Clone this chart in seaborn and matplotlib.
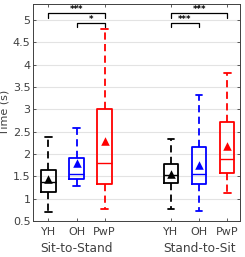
import numpy as np
import pandas as pd
import matplotlib
matplotlib.use("Agg")
import matplotlib.pyplot as plt
import seaborn as sns

# ---- data ----
groups = ["YH", "OH", "PwP"]
tasks = ["Sit-to-Stand", "Stand-to-Sit"]
colors = ["black", "blue", "red"]

whislo = [0.70, 1.28, 0.77, 0.78, 0.72, 1.12]
q1     = [1.15, 1.45, 1.32, 1.34, 1.32, 1.57]
med    = [1.37, 1.56, 1.80, 1.52, 1.56, 1.88]
q3     = [1.65, 1.91, 3.00, 1.78, 2.16, 2.71]
whishi = [2.38, 2.58, 4.80, 2.33, 3.32, 3.82]
means  = [1.43, 1.80, 2.30, 1.55, 1.76, 2.18]

# significance: (task index, group a, group b, level, label)
sig_pairs = [(0, 0, 2, 5.15, "***"), (0, 1, 2, 4.94, "*"),
             (1, 0, 2, 5.15, "***"), (1, 0, 1, 4.94, "***")]

sns.set_theme(style="white")
plt.rcParams['font.family'] = ['DejaVu Sans']

fig = plt.figure(figsize=(2.45, 2.57), dpi=100)
ax = fig.add_axes([0.136, 0.14, 0.844, 0.845])

offsets = [1.0, 5.36]
positions = [offsets[t] + g for t in range(2) for g in range(3)]
cols = colors * 2

stats = []
for i in range(6):
    stats.append(dict(whislo=whislo[i], q1=q1[i], med=med[i], q3=q3[i],
                      whishi=whishi[i], fliers=[]))

for i in range(6):
    c = cols[i]
    ax.bxp([stats[i]], positions=[positions[i]], widths=0.52, showfliers=False,
           boxprops=dict(color=c, linewidth=1.3),
           medianprops=dict(color=c, linewidth=1.0),
           whiskerprops=dict(color=c, linewidth=1.3, linestyle=(0, (4, 2.4))),
           capprops=dict(color=c, linewidth=1.3), capwidths=0.24,
           manage_ticks=False)

df = pd.DataFrame({"x": positions, "y": means, "c": cols})
for i, row in df.iterrows():
    sns.scatterplot(x=[row.x], y=[row.y], color=row.c, marker="^", s=38,
                    edgecolor=row.c, linewidth=0, ax=ax, zorder=5)

# significance brackets
for t, a, b, lvl, lab in sig_pairs:
    xa = offsets[t] + a
    xb = offsets[t] + b
    ax.plot([xa, xa, xb, xb], [lvl - 0.1, lvl, lvl, lvl - 0.1], color="black",
            linewidth=0.9, zorder=4)
    ax.text((xa + xb) / 2, lvl - 0.02, lab, ha="center", va="bottom",
            fontsize=6, fontweight="bold", color="black")

ax.set_xlim(0.46, 7.82)
ax.set_ylim(0.5, 5.36)
ax.set_yticks(np.arange(0.5, 5.01, 0.5))
ax.set_yticklabels(["0.5", "1", "1.5", "2", "2.5", "3", "3.5", "4", "4.5", "5"])
ax.set_xticks(positions)
ax.set_xticklabels(groups * 2)
ax.yaxis.grid(True, color="#e3e3e3", linewidth=0.8)
ax.set_axisbelow(True)

txtc = "#404040"
ax.tick_params(axis="both", direction="in", length=2.5, width=0.6,
               colors="#404040", labelsize=8, pad=2,
               top=True, right=True, bottom=True, left=True)
ax.tick_params(axis="x", pad=4)
for sp in ax.spines.values():
    sp.set_color("#404040")
    sp.set_linewidth(0.7)
ax.set_ylabel("Time (s)", fontsize=8, color=txtc)
ax.yaxis.set_label_coords(-0.115, 0.5)

for t in range(2):
    ax.text(offsets[t] + 1, -0.125, tasks[t], transform=ax.get_xaxis_transform(),
            ha="center", va="center", fontsize=8.7, color=txtc)

fig.savefig("out.png", dpi=100)
